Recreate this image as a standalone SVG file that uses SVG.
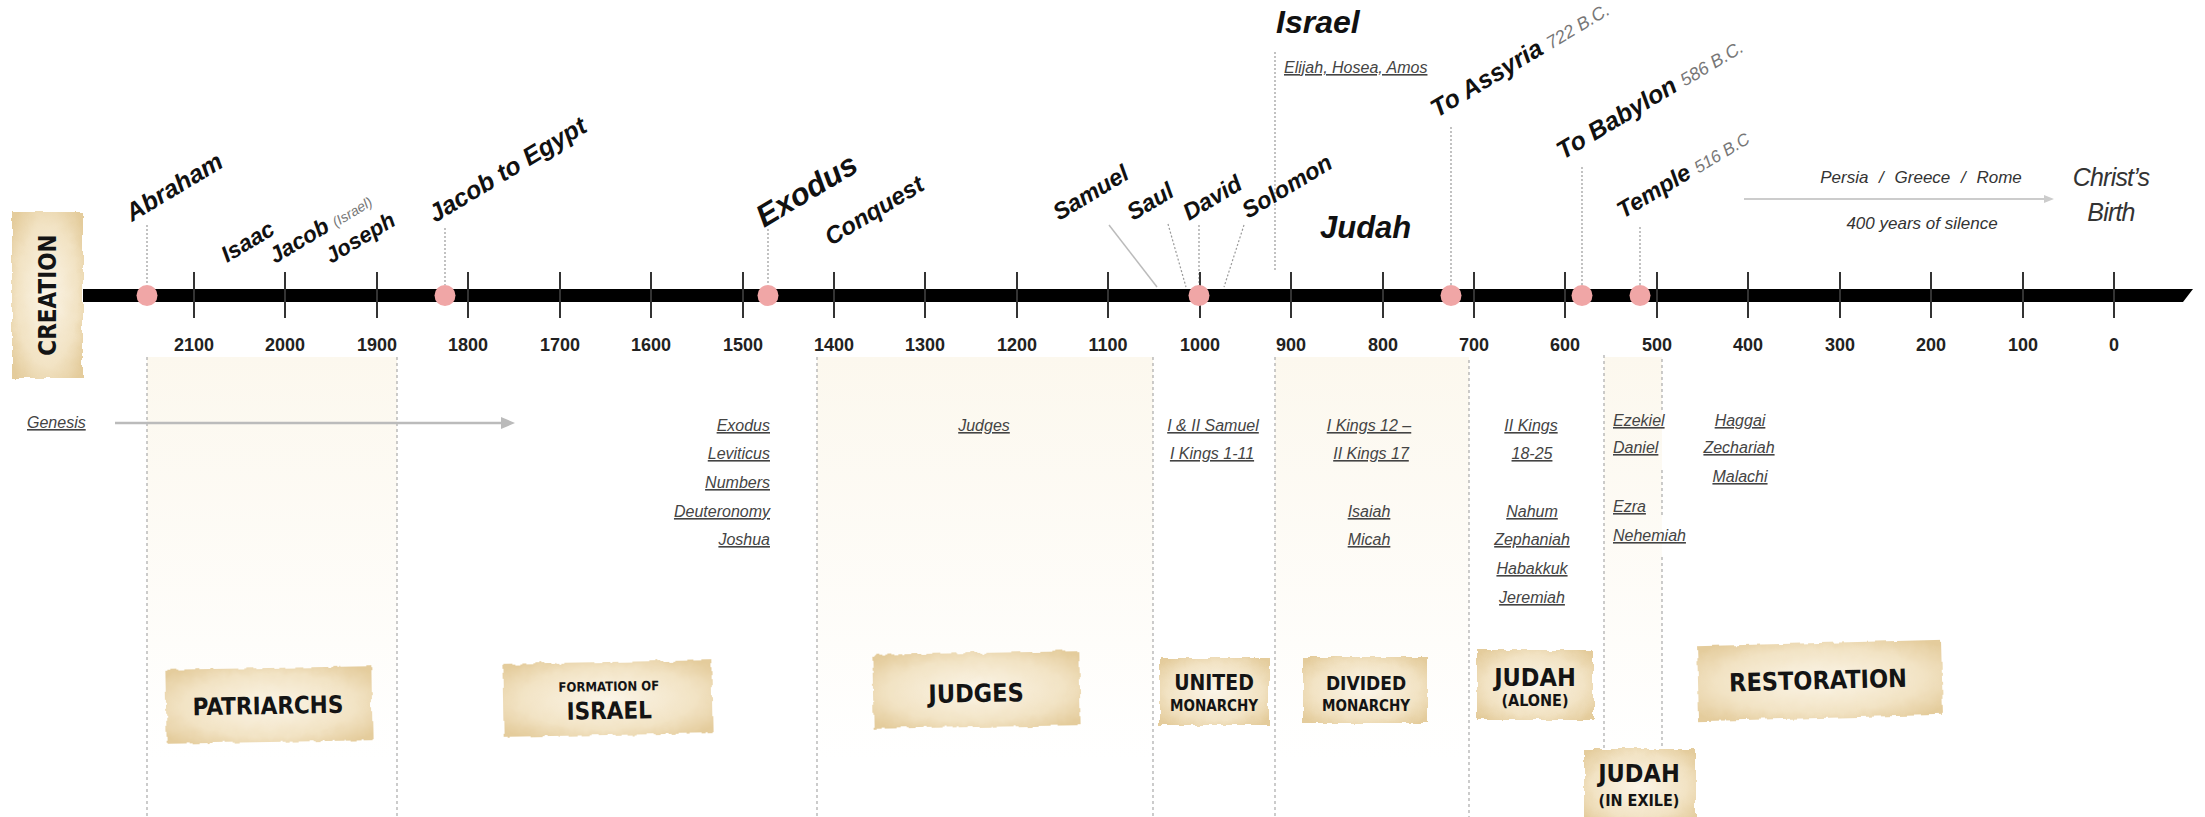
<svg xmlns="http://www.w3.org/2000/svg" width="2205" height="817" viewBox="0 0 2205 817">
<style>
.lbl{font-family:"Liberation Sans",Arial,sans-serif;font-weight:bold;font-style:italic;fill:#111}
.bc{font-weight:normal;font-style:italic;fill:#777}
.yr{font-family:"Liberation Sans",Arial,sans-serif;font-weight:bold;font-size:18px;fill:#222;text-anchor:middle}
.ref{font-family:"Liberation Sans",Arial,sans-serif;font-style:italic;font-size:16px;fill:#444;text-decoration:underline}
.note{font-family:"Liberation Sans",Arial,sans-serif;font-style:italic;fill:#333;text-anchor:middle}
.dot{fill:#f0a6a6}
.tick{stroke:#333;stroke-width:2}
.vd{stroke:#999;stroke-width:1.2;stroke-dasharray:2 2;fill:none}
.sep{stroke:#aaa;stroke-width:1.2;stroke-dasharray:3 3;fill:none}
.box{fill:url(#parch);filter:url(#rough)}
.bt{font-family:"DejaVu Sans Condensed","DejaVu Sans",sans-serif;font-stretch:condensed;font-weight:bold;fill:#141414;text-anchor:middle}
</style>
<defs>
<radialGradient id="parch" cx="50%" cy="50%" r="65%">
<stop offset="0%" stop-color="#fbf5e8"/>
<stop offset="65%" stop-color="#f2e3c4"/>
<stop offset="100%" stop-color="#e4cc9c"/>
</radialGradient>
<linearGradient id="cream" x1="0" y1="357" x2="0" y2="760" gradientUnits="userSpaceOnUse">
<stop offset="0%" stop-color="#fcf8ee"/>
<stop offset="100%" stop-color="#ffffff"/>
</linearGradient>
<filter id="rough" x="-5%" y="-10%" width="110%" height="120%">
<feTurbulence type="fractalNoise" baseFrequency="0.09" numOctaves="2" seed="4" result="n"/>
<feDisplacementMap in="SourceGraphic" in2="n" scale="6" xChannelSelector="R" yChannelSelector="G"/>
</filter>
<marker id="arr" markerWidth="14" markerHeight="12" refX="2" refY="6" orient="auto" markerUnits="userSpaceOnUse">
<path d="M0,0 L14,6 L0,12 z" fill="#bbb"/>
</marker>
<marker id="arr2" markerWidth="10" markerHeight="8" refX="2" refY="4" orient="auto" markerUnits="userSpaceOnUse">
<path d="M0,0 L10,4 L0,8 z" fill="#ccc"/>
</marker>
</defs>
<rect width="2205" height="817" fill="#fff"/>

<g id="regions">
<rect x="147" y="357" width="250" height="460" fill="url(#cream)"/>
<rect x="817" y="357" width="336" height="460" fill="url(#cream)"/>
<rect x="1275" y="357" width="194" height="460" fill="url(#cream)"/>
<rect x="1604" y="357" width="58" height="392" fill="url(#cream)"/>
</g>

<g id="connectors">
<line class="sep" x1="147" y1="357" x2="147" y2="817"/>
<line class="sep" x1="397" y1="357" x2="397" y2="817"/>
<line class="sep" x1="817" y1="357" x2="817" y2="817"/>
<line class="sep" x1="1153" y1="357" x2="1153" y2="817"/>
<line class="sep" x1="1275" y1="357" x2="1275" y2="817"/>
<line class="sep" x1="1469" y1="360" x2="1469" y2="817"/>
<line class="sep" x1="1604" y1="355" x2="1604" y2="749"/>
<line class="sep" x1="1662" y1="359" x2="1662" y2="410"/>
<line class="sep" x1="1662" y1="470" x2="1662" y2="517"/>
<line class="sep" x1="1662" y1="557" x2="1662" y2="749"/>
<line class="vd" x1="147" y1="225" x2="147" y2="285"/>
<line class="vd" x1="445" y1="228" x2="445" y2="285"/>
<line class="vd" x1="768" y1="229" x2="768" y2="285"/>
<line x1="1109" y1="225" x2="1157" y2="287" stroke="#bbb" stroke-width="1.5"/>
<line class="vd" x1="1168" y1="224" x2="1186" y2="287"/>
<line class="vd" x1="1199" y1="225" x2="1199" y2="287"/>
<line class="vd" x1="1244" y1="225" x2="1224" y2="287"/>
<line class="vd" x1="1275" y1="52" x2="1275" y2="272"/>
<line class="vd" x1="1451" y1="127" x2="1451" y2="285"/>
<line class="vd" x1="1582" y1="167" x2="1582" y2="285"/>
<line class="vd" x1="1640" y1="227" x2="1640" y2="285"/>
<line x1="115" y1="423" x2="503" y2="423" stroke="#bbb" stroke-width="2.5" marker-end="url(#arr)"/>
<line x1="1744" y1="199" x2="2046" y2="199" stroke="#ccc" stroke-width="2" marker-end="url(#arr2)"/>
</g>

<g id="timeline">
<path d="M83,289 L2193,289 L2183,302 L83,302 Z" fill="#000"/>
<g class="tick">
<line x1="194" y1="272" x2="194" y2="318"/><line x1="285" y1="272" x2="285" y2="318"/><line x1="377" y1="272" x2="377" y2="318"/><line x1="468" y1="272" x2="468" y2="318"/><line x1="560" y1="272" x2="560" y2="318"/><line x1="651" y1="272" x2="651" y2="318"/><line x1="743" y1="272" x2="743" y2="318"/><line x1="834" y1="272" x2="834" y2="318"/><line x1="925" y1="272" x2="925" y2="318"/><line x1="1017" y1="272" x2="1017" y2="318"/><line x1="1108" y1="272" x2="1108" y2="318"/><line x1="1200" y1="272" x2="1200" y2="318"/><line x1="1291" y1="272" x2="1291" y2="318"/><line x1="1383" y1="272" x2="1383" y2="318"/><line x1="1474" y1="272" x2="1474" y2="318"/><line x1="1565" y1="272" x2="1565" y2="318"/><line x1="1657" y1="272" x2="1657" y2="318"/><line x1="1748" y1="272" x2="1748" y2="318"/><line x1="1840" y1="272" x2="1840" y2="318"/><line x1="1931" y1="272" x2="1931" y2="318"/><line x1="2023" y1="272" x2="2023" y2="318"/><line x1="2114" y1="272" x2="2114" y2="318"/>
</g>
<g class="yr">
<text x="194" y="351">2100</text><text x="285" y="351">2000</text><text x="377" y="351">1900</text><text x="468" y="351">1800</text><text x="560" y="351">1700</text><text x="651" y="351">1600</text><text x="743" y="351">1500</text><text x="834" y="351">1400</text><text x="925" y="351">1300</text><text x="1017" y="351">1200</text><text x="1108" y="351">1100</text><text x="1200" y="351">1000</text><text x="1291" y="351">900</text><text x="1383" y="351">800</text><text x="1474" y="351">700</text><text x="1565" y="351">600</text><text x="1657" y="351">500</text><text x="1748" y="351">400</text><text x="1840" y="351">300</text><text x="1931" y="351">200</text><text x="2023" y="351">100</text><text x="2114" y="351">0</text>
</g>
<circle class="dot" cx="147" cy="295.5" r="10.5"/>
<circle class="dot" cx="445" cy="295.5" r="10.5"/>
<circle class="dot" cx="768" cy="295.5" r="10.5"/>
<circle class="dot" cx="1199" cy="295.5" r="10.5"/>
<circle class="dot" cx="1451" cy="295.5" r="10.5"/>
<circle class="dot" cx="1582" cy="295.5" r="10.5"/>
<circle class="dot" cx="1640" cy="295.5" r="10.5"/>
</g>

<g id="creation">
<rect class="box" x="12" y="212" width="71" height="166"/>
<text class="bt" font-size="24" transform="translate(56,295) rotate(-90)">CREATION</text>
</g>

<g id="ev-abraham"><text class="lbl" font-size="25" transform="translate(132,222) rotate(-31)">Abraham</text></g>
<g id="ev-isaac"><text class="lbl" font-size="23" transform="translate(227,263) rotate(-31)">Isaac</text></g>
<g id="ev-jacob"><text class="lbl" font-size="22.5" transform="translate(275,264) rotate(-31)">Jacob <tspan class="bc" font-size="14">(Israel)</tspan></text></g>
<g id="ev-joseph"><text class="lbl" font-size="22" transform="translate(331,264) rotate(-31)">Joseph</text></g>
<g id="ev-jacob-egypt"><text class="lbl" font-size="25" transform="translate(435,223) rotate(-31)">Jacob to Egypt</text></g>
<g id="ev-exodus"><text class="lbl" font-size="31" transform="translate(764,228) rotate(-31)">Exodus</text></g>
<g id="ev-conquest"><text class="lbl" font-size="24" font-style="normal" transform="translate(831,246) rotate(-31)">Conquest</text></g>
<g id="ev-samuel"><text class="lbl" font-size="23.5" transform="translate(1059,221) rotate(-31)">Samuel</text></g>
<g id="ev-saul"><text class="lbl" font-size="23.5" transform="translate(1133,221) rotate(-31)">Saul</text></g>
<g id="ev-david"><text class="lbl" font-size="23.5" transform="translate(1189,221) rotate(-31)">David</text></g>
<g id="ev-solomon"><text class="lbl" font-size="23.5" transform="translate(1248,219) rotate(-31)">Solomon</text></g>
<g id="ev-israel">
<text class="lbl" font-size="32" x="1276" y="33">Israel</text>
<text class="ref" font-size="15" x="1284" y="73">Elijah, Hosea, Amos</text>
</g>
<g id="ev-judah"><text class="lbl" font-size="31" x="1320" y="238">Judah</text></g>
<g id="ev-assyria"><text class="lbl" font-size="25" transform="translate(1437,118) rotate(-31)">To Assyria <tspan class="bc" font-size="18">722 B.C.</tspan></text></g>
<g id="ev-babylon"><text class="lbl" font-size="25" transform="translate(1563,160) rotate(-31)">To Babylon <tspan class="bc" font-size="18">586 B.C.</tspan></text></g>
<g id="ev-temple"><text class="lbl" font-size="23.5" transform="translate(1623,219) rotate(-31)">Temple <tspan class="bc" font-size="17">516 B.C</tspan></text></g>
<g id="ev-persia">
<text class="note" font-size="17" x="1921" y="183" word-spacing="6">Persia / Greece / Rome</text>
<text class="note" font-size="17" x="1922" y="229">400 years of silence</text>
</g>
<g id="ev-christ">
<text class="note" font-size="25" x="2111" y="186" fill="#222" letter-spacing="-0.8">Christ’s</text>
<text class="note" font-size="25" x="2111" y="221" fill="#222" letter-spacing="-0.8">Birth</text>
</g>

<g id="books">
<text class="ref" x="27" y="428">Genesis</text>
<g text-anchor="end">
<text class="ref" x="770" y="431">Exodus</text>
<text class="ref" x="770" y="459">Leviticus</text>
<text class="ref" x="770" y="488">Numbers</text>
<text class="ref" x="770" y="517">Deuteronomy</text>
<text class="ref" x="770" y="545">Joshua</text>
</g>
<g text-anchor="middle">
<text class="ref" x="984" y="431">Judges</text>
<text class="ref" x="1213" y="431">I &amp; II Samuel</text>
<text class="ref" x="1212" y="459">I Kings 1-11</text>
<text class="ref" x="1369" y="431">I Kings 12 –</text>
<text class="ref" x="1371" y="459">II Kings 17</text>
<text class="ref" x="1369" y="517">Isaiah</text>
<text class="ref" x="1369" y="545">Micah</text>
<text class="ref" x="1531" y="431">II Kings</text>
<text class="ref" x="1532" y="459">18-25</text>
<text class="ref" x="1532" y="517">Nahum</text>
<text class="ref" x="1532" y="545">Zephaniah</text>
<text class="ref" x="1532" y="574">Habakkuk</text>
<text class="ref" x="1532" y="603">Jeremiah</text>
<text class="ref" x="1740" y="426">Haggai</text>
<text class="ref" x="1739" y="453">Zechariah</text>
<text class="ref" x="1740" y="482">Malachi</text>
</g>
<text class="ref" x="1613" y="426">Ezekiel</text>
<text class="ref" x="1613" y="453">Daniel</text>
<text class="ref" x="1613" y="512">Ezra</text>
<text class="ref" x="1613" y="541">Nehemiah</text>
</g>

<g id="patriarchs" transform="rotate(-1 269 705)">
<rect class="box" x="166" y="668" width="206" height="74"/>
<text class="bt" font-size="24" x="268" y="714">PATRIARCHS</text>
</g>
<g id="formation" transform="rotate(-1 608 698)">
<rect class="box" x="504" y="662" width="208" height="73"/>
<text class="bt" font-size="13" x="609" y="691">FORMATION OF</text>
<text class="bt" font-size="24" x="609" y="719">ISRAEL</text>
</g>
<g id="judges" transform="rotate(-1 976 690)">
<rect class="box" x="873" y="653" width="207" height="74"/>
<text class="bt" font-size="25" x="976" y="702">JUDGES</text>
</g>
<g id="united">
<rect class="box" x="1160" y="658" width="109" height="67"/>
<text class="bt" font-size="21" x="1214" y="690">UNITED</text>
<text class="bt" font-size="15" x="1214" y="711">MONARCHY</text>
</g>
<g id="divided">
<rect class="box" x="1303" y="657" width="125" height="66"/>
<text class="bt" font-size="19" x="1366" y="690">DIVIDED</text>
<text class="bt" font-size="15" x="1366" y="711">MONARCHY</text>
</g>
<g id="judah-alone">
<rect class="box" x="1477" y="650" width="116" height="70"/>
<text class="bt" font-size="25" x="1535" y="686">JUDAH</text>
<text class="bt" font-size="16" x="1535" y="706">(ALONE)</text>
</g>
<g id="restoration" transform="rotate(-1.5 1820 680)">
<rect class="box" x="1698" y="643" width="244" height="75"/>
<text class="bt" font-size="25" x="1818" y="689">RESTORATION</text>
</g>
<g id="judah-exile">
<rect class="box" x="1584" y="749" width="111" height="75"/>
<text class="bt" font-size="25" x="1639" y="782">JUDAH</text>
<text class="bt" font-size="16" x="1639" y="806">(IN EXILE)</text>
</g>
</svg>
